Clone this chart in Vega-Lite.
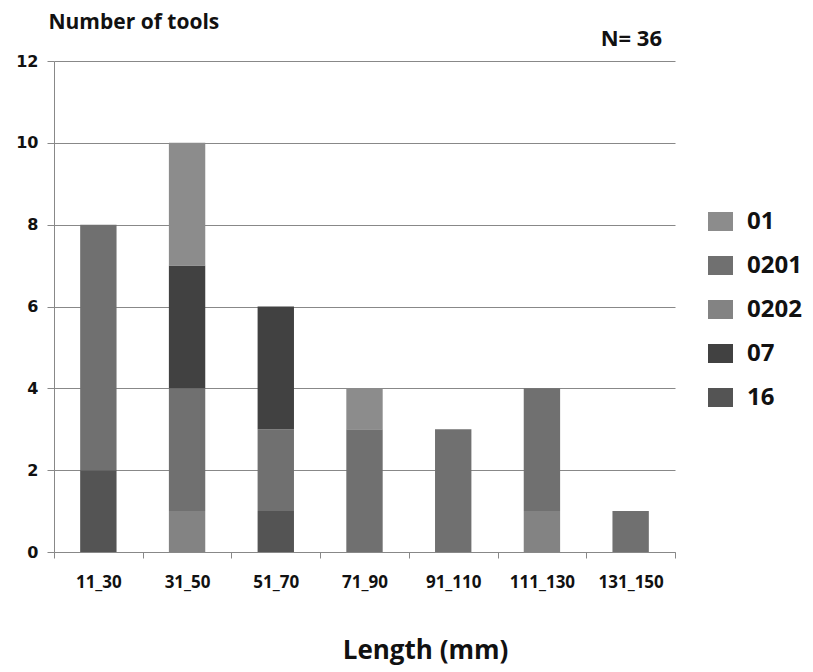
{
  "$schema": "https://vega.github.io/schema/vega-lite/v6.json",
  "width": 621,
  "height": 491,
  "autosize": {"type": "none"},
  "padding": {"left": 54, "top": 61, "right": 138, "bottom": 120},
  "background": "white",
  "title": {"text": "N= 36", "anchor": "end", "frame": "group", "font": "Open Sans", "fontSize": 22, "fontWeight": "bold", "color": "#111111", "dx": -13, "dy": 27, "offset": -35, "baseline": "bottom"},
  "data": {"values": [
    {"length": "11_30", "type": "16", "count": 2},
    {"length": "11_30", "type": "0201", "count": 6},
    {"length": "31_50", "type": "0202", "count": 1},
    {"length": "31_50", "type": "0201", "count": 3},
    {"length": "31_50", "type": "07", "count": 3},
    {"length": "31_50", "type": "01", "count": 3},
    {"length": "51_70", "type": "16", "count": 1},
    {"length": "51_70", "type": "0201", "count": 2},
    {"length": "51_70", "type": "07", "count": 3},
    {"length": "71_90", "type": "0201", "count": 3},
    {"length": "71_90", "type": "01", "count": 1},
    {"length": "91_110", "type": "0201", "count": 3},
    {"length": "111_130", "type": "0202", "count": 1},
    {"length": "111_130", "type": "0201", "count": 3},
    {"length": "131_150", "type": "0201", "count": 1}
  ]},
  "transform": [{"calculate": "indexof(['16','0202','0201','07','01'], datum.type)", "as": "stackOrder"}],
  "mark": {"type": "bar", "width": {"band": 0.41}},
  "encoding": {
    "x": {
      "field": "length", "type": "nominal",
      "sort": ["11_30", "31_50", "51_70", "71_90", "91_110", "111_130", "131_150"],
      "scale": {"paddingInner": 0, "paddingOuter": 0},
      "axis": {
        "labelAngle": 0, "tickBand": "extent", "tickSize": 6, "tickColor": "#888888",
        "domainColor": "#888888", "labelPadding": 16, "labelFont": "Open Sans", "labelFontSize": 17,
        "labelFontWeight": "bold", "labelColor": "#111111",
        "title": "Length (mm)", "titleFont": "Open Sans", "titleFontSize": 26, "titleFontWeight": "bold",
        "titleColor": "#111111", "titleX": 371, "titleY": 98, "titleAlign": "center", "titleBaseline": "middle"
      }
    },
    "y": {
      "field": "count", "type": "quantitative", "stack": "zero",
      "scale": {"domain": [0, 12], "nice": false},
      "axis": {
        "values": [0, 2, 4, 6, 8, 10, 12], "grid": true, "gridColor": "#888888", "gridWidth": 1,
        "domainColor": "#888888", "tickColor": "#888888", "tickSize": 7, "labelPadding": 9,
        "labelFont": "DejaVu Sans", "labelFontSize": 16, "labelFontWeight": "bold", "labelColor": "#111111",
        "title": "Number of tools", "titleAngle": 0, "titleX": -6, "titleY": -39,
        "titleAlign": "left", "titleBaseline": "middle", "titleFont": "Open Sans", "titleFontSize": 21,
        "titleFontWeight": "bold", "titleColor": "#111111"
      }
    },
    "color": {
      "field": "type", "type": "nominal",
      "scale": {"domain": ["01", "0201", "0202", "07", "16"], "range": ["#8c8c8c", "#707070", "#838383", "#414141", "#545454"]},
      "legend": {
        "orient": "none", "legendX": 654, "legendY": 148, "title": null, "padding": 0,
        "symbolType": "M-1,-0.76H1V0.76H-1Z", "symbolSize": 625, "symbolStrokeWidth": 0, "symbolOpacity": 1,
        "labelFont": "Open Sans", "labelFontSize": 24, "labelFontWeight": "bold", "labelColor": "#111111",
        "labelOffset": 14, "rowPadding": 19
      }
    },
    "order": {"field": "stackOrder", "type": "quantitative"}
  },
  "config": {"view": {"stroke": null}}
}
